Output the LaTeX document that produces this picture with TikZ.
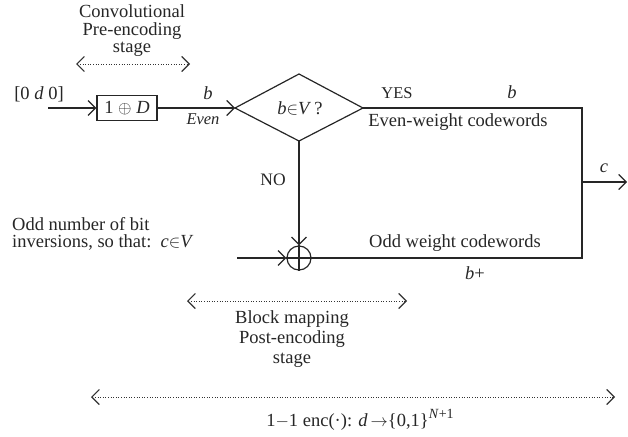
\documentclass[tikz,border=0pt]{standalone}
\usepackage{fontspec}
\setmainfont{Liberation Serif}
\usetikzlibrary{arrows.meta}
\begin{document}
\begin{tikzpicture}[x=1pt,y=-1pt,
  lbl/.style={inner sep=0pt, text=black!85, font=\fontsize{18.5}{19}\selectfont},
  ln/.style={line width=1.2pt, draw=black!85},
  tip/.style={-{Straight Barb[length=7.5pt,width=15pt,line width=1.2pt]}},
  dots/.style={dotted, line width=0.6pt, draw=black!80,
     {Straight Barb[length=7.5pt,width=15pt,line width=1.2pt]}-{Straight Barb[length=7.5pt,width=15pt,line width=1.2pt]}}]
\useasboundingbox (0,0) rectangle (628,436);

% top annotation
\node[lbl, align=center, font=\fontsize{18.5}{17.5}\selectfont] (conv) at (132,31) {Convolutional\\Pre-encoding\\stage};
\coordinate (ca) at (76,64); \coordinate (cb) at (190,64);
\draw[dots] (ca) -- (cb);

% input and pre-encoder
\node[lbl] (inlbl) at (39,94) {[0 \textit{d} 0]};
\coordinate (in) at (48,108);
\node[draw, ln, minimum width=60pt, minimum height=25pt, inner sep=0pt, text=black!85, font=\fontsize{18.5}{19}\selectfont] (box) at (127,108) {1 $\oplus$ \textit{D}};
\draw[ln,tip] (in) -- (box.west);

% decision diamond
\coordinate (dl) at (235,108); \coordinate (dt) at (299,74);
\coordinate (dr) at (363,108); \coordinate (db) at (299,141);
\draw[ln, line join=miter] (dl) -- (dt) -- (dr) -- (db) -- cycle;
\node[lbl] (dq) at (300,108) {\textit{b}$\in$\textit{V}\,?};
\draw[ln,tip] (box.east) -- (dl);
\node[lbl] (b1) at (208,93) {\textit{b}};
\node[lbl, font=\fontsize{16.5}{18}\selectfont\itshape] (even) at (203,119) {Even};

% YES branch
\node[lbl, font=\fontsize{16.5}{18}\selectfont] (yes) at (397,93) {YES};
\node[lbl] (b2) at (512,92) {\textit{b}};
\node[lbl] (evw) at (458,122) {Even-weight codewords};
\coordinate (rt) at (582,108); \coordinate (rb) at (582,258);
\coordinate (cj) at (582,182); \coordinate (cout) at (627,182);
\draw[ln,tip] (cj) -- (cout);
\node[lbl] (c) at (604,168) {\textit{c}};

% NO branch
\node[lbl, font=\fontsize{17.5}{18}\selectfont] (no) at (273,180) {NO};
\node[draw, ln, circle, minimum size=24pt, inner sep=0pt] (sum) at (299,258) {};
\draw[ln] (sum.north) -- (sum.south) (sum.west) -- (sum.east);
\draw[ln,tip] (db) -- (sum.north);
\coordinate (oin) at (237,258);
\draw[ln,tip] (oin) -- (sum.west);
\draw[ln, line join=miter] (dr) -- (rt) -- (rb) -- (sum.east);

\node[lbl, align=left, anchor=west, font=\fontsize{18.5}{17}\selectfont] (odd) at (12,234) {Odd number of bit\\inversions, so that:\ \ \textit{c}$\in$\textit{V}};
\node[lbl] (oddw) at (455,243) {Odd weight codewords};
\node[lbl] (bp) at (475,273) {\textit{b}+};

% block mapping annotation
\coordinate (ba) at (187,301); \coordinate (bb) at (407,301);
\draw[dots] (ba) -- (bb);
\node[lbl, align=center, font=\fontsize{18.5}{20}\selectfont] (blk) at (292,339) {Block mapping\\Post-encoding\\stage};

% overall annotation
\coordinate (ea) at (91,397); \coordinate (eb) at (615,397);
\draw[dots] (ea) -- (eb);
\node[lbl] (enc) at (360,420) {1$-$1 enc(\textperiodcentered): \textit{d}\,$\rightarrow$\{0,1\}\raisebox{8pt}{\fontsize{14}{14}\selectfont\textit{N}+1}};
\end{tikzpicture}
\end{document}
